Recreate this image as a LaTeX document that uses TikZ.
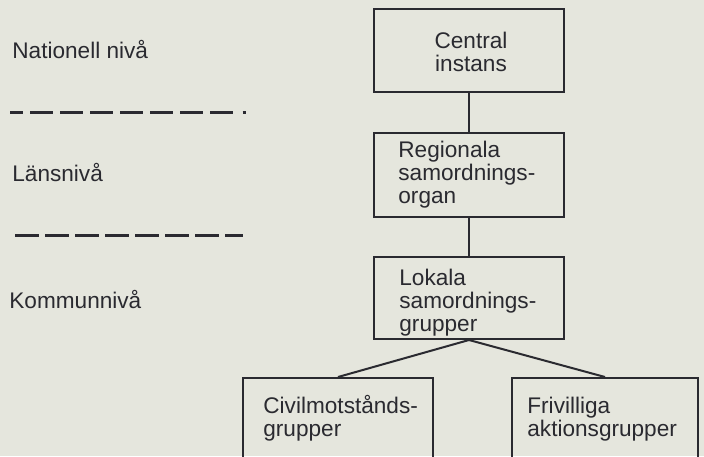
\documentclass[tikz,border=0pt]{standalone}
\usepackage{fontspec}
\setmainfont{Liberation Sans}
\definecolor{paper}{RGB}{229,230,221}
\definecolor{ink}{RGB}{42,42,48}
\begin{document}
\begin{tikzpicture}[x=0.5pt,y=-0.5pt,
  box/.style={draw=ink,line width=1pt,inner sep=0pt},
  lbl/.style={text=ink,inner sep=0pt,anchor=base west,font=\fontsize{11.3}{11.7}\selectfont},
  clbl/.style={text=ink,inner sep=0pt,anchor=base,font=\fontsize{11.3}{11.2}\selectfont},
  sep/.style={draw=ink,line width=1.5pt,dash pattern=on 11.5pt off 3.5pt},
  link/.style={draw=ink,line width=1pt}]
\clip (0,0) rectangle (704,456);
\fill[paper] (0,0) rectangle (704,456);

% level labels
\node[lbl] (nat) at (12,58) {Nationell nivå};
\node[lbl] (lan) at (12,181) {Länsnivå};
\node[lbl] (kom) at (9,308) {Kommunnivå};

% separators
\coordinate (s1a) at (10,112);
\coordinate (s1b) at (233,112);
\coordinate (d1a) at (242.5,112);
\coordinate (d1b) at (245.5,112);
\coordinate (s2a) at (15,235);
\coordinate (s2b) at (243,235);
\draw[sep,dash phase=5pt] (s1a) -- (s1b);
\draw[draw=ink,line width=1.5pt] (d1a) -- (d1b);
\draw[sep,dash pattern=on 12pt off 3pt] (s2a) -- (s2b);

% boxes
\node[box,minimum width=95pt,minimum height=41.5pt] (central) at (469,50.5) {};
\node[box,minimum width=95pt,minimum height=42pt] (region) at (469,175) {};
\node[box,minimum width=95pt,minimum height=41pt] (lokal) at (469,298) {};
\node[box,minimum width=95pt,minimum height=46pt] (civil) at (338,424) {};
\node[box,minimum width=93pt,minimum height=46pt] (friv) at (605,424) {};

% box texts
\node[clbl] (tcentral) at (471,48) {\begin{tabular}[t]{@{}c@{}}Central\\instans\end{tabular}};
\node[lbl] (tregion) at (398,157) {\begin{tabular}[t]{@{}l@{}}Regionala\\samordnings-\\organ\end{tabular}};
\node[lbl] (tlokal) at (399,285) {\begin{tabular}[t]{@{}l@{}}Lokala\\samordnings-\\grupper\end{tabular}};
\node[lbl] (tcivil) at (263,413) {\begin{tabular}[t]{@{}l@{}}Civilmotstånds-\\grupper\end{tabular}};
\node[lbl] (tfriv) at (527,413) {\begin{tabular}[t]{@{}l@{}}Frivilliga\\aktionsgrupper\end{tabular}};

% connectors
\draw[link] (central.south) -- (region.north);
\draw[link] (region.south) -- (lokal.north);
\draw[link] (lokal.south) -- (civil.north);
\draw[link] (lokal.south) -- (friv.north);
\end{tikzpicture}
\end{document}
